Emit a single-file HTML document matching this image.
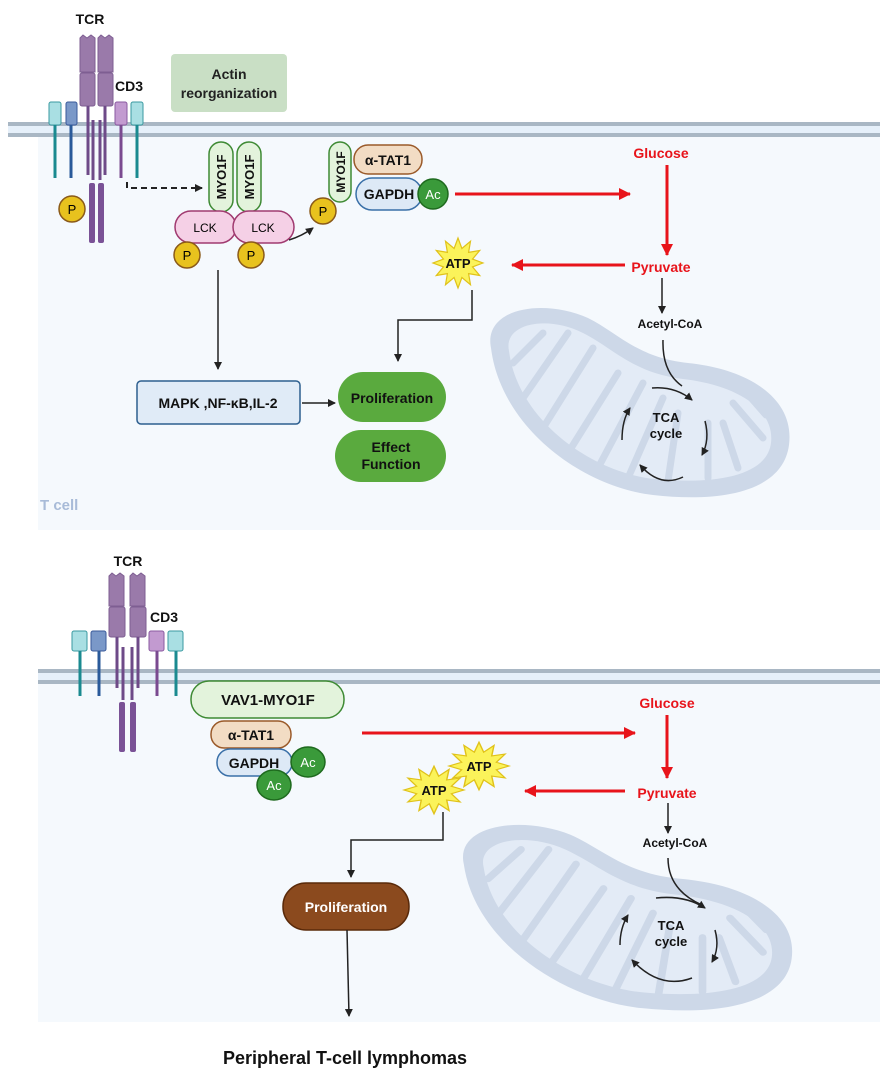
<!DOCTYPE html>
<html><head><meta charset="utf-8"><style>
html,body{margin:0;padding:0;background:#fff}
svg{display:block}
text{font-family:"Liberation Sans",Arial,sans-serif;font-weight:bold}
</style></head><body>
<svg width="880" height="1073" viewBox="0 0 880 1073" xmlns="http://www.w3.org/2000/svg">
<defs>
<marker id="ak" markerWidth="8" markerHeight="8" refX="7" refY="4" orient="auto" markerUnits="userSpaceOnUse"><path d="M0,0 L8,4 L0,8 Z" fill="#222"/></marker>
<marker id="ar" markerWidth="12" markerHeight="12" refX="11" refY="6" orient="auto" markerUnits="userSpaceOnUse"><path d="M0,0 L12,6 L0,12 Z" fill="#e8141b"/></marker>
<polygon id="star" points="25,0 14.5,3.9 21.7,12.5 10.6,10.6 12.5,21.7 3.9,14.5 0,25 -3.9,14.5 -12.5,21.7 -10.6,10.6 -21.7,12.5 -14.5,3.9 -25,0 -14.5,-3.9 -21.7,-12.5 -10.6,-10.6 -12.5,-21.7 -3.9,-14.5 0,-25 3.9,-14.5 12.5,-21.7 10.6,-10.6 21.7,-12.5 14.5,-3.9" fill="#fbf35a" stroke="#e0c21a" stroke-width="1.2"/>
<g id="mito">
<path d="M8,45 C0,5 60,-5 105,15 C135,30 155,55 205,60 C265,66 312,95 306,142 C300,188 240,200 170,192 C100,184 18,125 8,45 Z" fill="#cdd8e8"/>
<path d="M26,48 C20,20 65,12 100,30 C130,45 150,70 200,76 C252,82 292,105 288,140 C284,172 235,182 172,176 C110,170 35,118 26,48 Z" fill="#e3ebf6"/>
<g stroke="#cdd8e8" stroke-width="7" stroke-linecap="round" fill="none">
<path d="M30,60 L60,30"/><path d="M40,95 L85,30"/><path d="M60,125 L110,45"/><path d="M85,150 L135,70"/><path d="M115,165 L160,80"/><path d="M145,175 L180,95"/><path d="M185,178 L195,110"/><path d="M225,175 L225,120"/><path d="M255,165 L240,120"/><path d="M280,135 L250,100"/><path d="M283,112 L262,88"/>
</g>
</g>
</defs>

<!-- TOP PANEL -->
<rect x="38" y="130" width="842" height="400" fill="#f5f9fd"/>
<rect x="8" y="122" width="880" height="15" fill="#e6f0fa"/>
<rect x="8" y="122" width="880" height="4" fill="#a9b7c4"/>
<rect x="8" y="133" width="880" height="4" fill="#a9b7c4"/>

<text x="90" y="24" font-size="14" text-anchor="middle" fill="#111">TCR</text>
<g fill="#9a7aaa" stroke="#7e5e92" stroke-width="1">
<path d="M80,38 l3,-3 l4,3 l4,-3 l4,3 V72 H80 Z"/><rect x="80" y="73" width="15" height="33" rx="2"/>
<path d="M98,38 l3,-3 l4,3 l4,-3 l4,3 V72 H98 Z"/><rect x="98" y="73" width="15" height="33" rx="2"/>
</g>
<g stroke="#6e4a88" stroke-width="3" fill="none">
<path d="M88,106 V175"/><path d="M105,106 V175"/><path d="M93,120 V180"/><path d="M100,120 V180"/>
</g>
<rect x="89" y="183" width="6" height="60" rx="2" fill="#7a5296"/><rect x="98" y="183" width="6" height="60" rx="2" fill="#7a5296"/>
<text x="115" y="91" font-size="14" fill="#111">CD3</text>
<rect x="49" y="102" width="12" height="23" rx="2" fill="#a9dfe3" stroke="#3a9aa0"/>
<rect x="66" y="102" width="11" height="23" rx="2" fill="#7a98c8" stroke="#3a5a9a"/>
<rect x="115" y="102" width="12" height="23" rx="2" fill="#c29ad0" stroke="#8a5aa0"/>
<rect x="131" y="102" width="12" height="23" rx="2" fill="#a9dfe3" stroke="#3a9aa0"/>
<g stroke-width="3"><path d="M55,125 V178" stroke="#1a8a90"/><path d="M71,125 V178" stroke="#2a5a9a"/><path d="M121,125 V178" stroke="#7a4a90"/><path d="M137,125 V178" stroke="#1a8a90"/></g>
<circle cx="72" cy="209" r="13" fill="#e8c21e" stroke="#8a5a1a" stroke-width="1.5"/><text x="72" y="214" font-size="13" text-anchor="middle" style="font-weight:normal">P</text>
<path d="M127,182 V188 H202" stroke="#222" stroke-width="2" stroke-dasharray="6,4" fill="none" marker-end="url(#ak)"/>

<rect x="171" y="54" width="116" height="58" rx="4" fill="#c9dfc5"/>
<text x="229" y="79" font-size="14" text-anchor="middle" fill="#222">Actin</text>
<text x="229" y="98" font-size="14" text-anchor="middle" fill="#222">reorganization</text>

<rect x="209" y="142" width="24" height="70" rx="12" fill="#e3f3dc" stroke="#3e8a34" stroke-width="1.5"/>
<rect x="237" y="142" width="24" height="70" rx="12" fill="#e3f3dc" stroke="#3e8a34" stroke-width="1.5"/>
<text transform="translate(226,177) rotate(-90)" font-size="13" text-anchor="middle" fill="#111">MYO1F</text>
<text transform="translate(254,177) rotate(-90)" font-size="13" text-anchor="middle" fill="#111">MYO1F</text>
<rect x="175" y="211" width="61" height="32" rx="16" fill="#f5d0e6" stroke="#a03a70" stroke-width="1.5"/>
<rect x="233" y="211" width="61" height="32" rx="16" fill="#f5d0e6" stroke="#a03a70" stroke-width="1.5"/>
<text x="205" y="232" font-size="12" text-anchor="middle" style="font-weight:normal">LCK</text>
<text x="263" y="232" font-size="12" text-anchor="middle" style="font-weight:normal">LCK</text>
<circle cx="187" cy="255" r="13" fill="#e8c21e" stroke="#8a5a1a" stroke-width="1.5"/><text x="187" y="260" font-size="13" text-anchor="middle" style="font-weight:normal">P</text>
<circle cx="251" cy="255" r="13" fill="#e8c21e" stroke="#8a5a1a" stroke-width="1.5"/><text x="251" y="260" font-size="13" text-anchor="middle" style="font-weight:normal">P</text>
<path d="M289,240 Q302,236 313,228" stroke="#222" stroke-width="1.5" fill="none" marker-end="url(#ak)"/>
<rect x="329" y="142" width="22" height="60" rx="11" fill="#e3f3dc" stroke="#3e8a34" stroke-width="1.5"/>
<text transform="translate(345,172) rotate(-90)" font-size="12" text-anchor="middle" fill="#111">MYO1F</text>
<circle cx="323" cy="211" r="13" fill="#e8c21e" stroke="#8a5a1a" stroke-width="1.5"/><text x="323" y="216" font-size="13" text-anchor="middle" style="font-weight:normal">P</text>
<rect x="354" y="145" width="68" height="29" rx="14" fill="#f2dcc4" stroke="#9a5a2a" stroke-width="1.5"/>
<text x="388" y="165" font-size="14" text-anchor="middle" fill="#111">α-TAT1</text>
<rect x="356" y="178" width="66" height="32" rx="16" fill="#dde9f6" stroke="#3a70a8" stroke-width="1.5"/>
<text x="389" y="199" font-size="14" text-anchor="middle" fill="#111">GAPDH</text>
<circle cx="433" cy="194" r="15" fill="#3a9a3a" stroke="#1e6a1e" stroke-width="1.5"/><text x="433" y="199" font-size="13" text-anchor="middle" fill="#fff" style="font-weight:normal">Ac</text>

<path d="M455,194 H630" stroke="#e8141b" stroke-width="3" marker-end="url(#ar)"/>
<text x="661" y="158" font-size="14" text-anchor="middle" fill="#e8141b">Glucose</text>
<path d="M667,165 V255" stroke="#e8141b" stroke-width="3" marker-end="url(#ar)"/>
<text x="661" y="272" font-size="14" text-anchor="middle" fill="#e8141b">Pyruvate</text>
<path d="M625,265 H512" stroke="#e8141b" stroke-width="3" marker-end="url(#ar)"/>
<use href="#star" transform="translate(458,263)"/>
<text x="458" y="268" font-size="13" text-anchor="middle" fill="#111">ATP</text>
<use href="#mito" transform="translate(483,303)"/>
<path d="M662,278 V313" stroke="#222" stroke-width="1.5" marker-end="url(#ak)"/>
<text x="670" y="328" font-size="12" text-anchor="middle" fill="#111">Acetyl-CoA</text>
<path d="M663,340 Q662,372 682,386" stroke="#222" stroke-width="1.5" fill="none"/>
<text x="666" y="422" font-size="13" text-anchor="middle" fill="#111">TCA</text>
<text x="666" y="438" font-size="13" text-anchor="middle" fill="#111">cycle</text>
<g stroke="#222" stroke-width="1.5" fill="none" marker-end="url(#ak)">
<path d="M652,388 Q675,386 692,400"/><path d="M705,421 Q710,440 702,455"/><path d="M683,477 Q660,488 640,465"/><path d="M622,440 Q622,420 630,408"/>
</g>
<path d="M472,290 V320 H398 V361" stroke="#222" stroke-width="1.5" fill="none" marker-end="url(#ak)"/>
<path d="M218,270 V369" stroke="#222" stroke-width="1.5" marker-end="url(#ak)"/>
<rect x="137" y="381" width="163" height="43" rx="4" fill="#e0ebf7" stroke="#2d5f8f" stroke-width="1.5"/>
<text x="218" y="408" font-size="14" text-anchor="middle" fill="#111">MAPK ,NF-κB,IL-2</text>
<path d="M302,403 H335" stroke="#222" stroke-width="1.5" marker-end="url(#ak)"/>
<rect x="338" y="372" width="108" height="50" rx="25" fill="#5aaa3e"/>
<text x="392" y="403" font-size="14" text-anchor="middle" fill="#111">Proliferation</text>
<rect x="335" y="430" width="111" height="52" rx="26" fill="#5aaa3e"/>
<text x="391" y="452" font-size="14" text-anchor="middle" fill="#111">Effect</text>
<text x="391" y="469" font-size="14" text-anchor="middle" fill="#111">Function</text>
<text x="40" y="510" font-size="15" fill="#a8bbd8">T cell</text>

<!-- BOTTOM PANEL -->
<rect x="38" y="676" width="842" height="346" fill="#f5f9fd"/>
<rect x="38" y="669" width="850" height="15" fill="#e6f0fa"/>
<rect x="38" y="669" width="850" height="4" fill="#a9b7c4"/>
<rect x="38" y="680" width="850" height="4" fill="#a9b7c4"/>

<text x="128" y="566" font-size="14" text-anchor="middle" fill="#111">TCR</text>
<g fill="#9a7aaa" stroke="#7e5e92" stroke-width="1">
<path d="M109,576 l3,-3 l4,3 l4,-3 l4,3 V606 H109 Z"/><rect x="109" y="607" width="16" height="30" rx="2"/>
<path d="M130,576 l3,-3 l4,3 l4,-3 l4,3 V606 H130 Z"/><rect x="130" y="607" width="16" height="30" rx="2"/>
</g>
<g stroke="#6e4a88" stroke-width="3" fill="none">
<path d="M117,637 V688"/><path d="M138,637 V688"/><path d="M123,647 V700"/><path d="M132,647 V700"/>
</g>
<rect x="119" y="702" width="6" height="50" rx="2" fill="#7a5296"/><rect x="130" y="702" width="6" height="50" rx="2" fill="#7a5296"/>
<text x="150" y="622" font-size="14" fill="#111">CD3</text>
<rect x="72" y="631" width="15" height="20" rx="2" fill="#a9dfe3" stroke="#3a9aa0"/>
<rect x="91" y="631" width="15" height="20" rx="2" fill="#7a98c8" stroke="#3a5a9a"/>
<rect x="149" y="631" width="15" height="20" rx="2" fill="#c29ad0" stroke="#8a5aa0"/>
<rect x="168" y="631" width="15" height="20" rx="2" fill="#a9dfe3" stroke="#3a9aa0"/>
<g stroke-width="3"><path d="M80,651 V696" stroke="#1a8a90"/><path d="M99,651 V696" stroke="#2a5a9a"/><path d="M157,651 V696" stroke="#7a4a90"/><path d="M176,651 V696" stroke="#1a8a90"/></g>

<rect x="191" y="681" width="153" height="37" rx="18" fill="#e3f3dc" stroke="#3e8a34" stroke-width="1.5"/>
<text x="268" y="705" font-size="15" text-anchor="middle" fill="#111">VAV1-MYO1F</text>
<rect x="211" y="721" width="80" height="27" rx="13" fill="#f2dcc4" stroke="#9a5a2a" stroke-width="1.5"/>
<text x="251" y="740" font-size="14" text-anchor="middle" fill="#111">α-TAT1</text>
<rect x="217" y="749" width="75" height="27" rx="13" fill="#dde9f6" stroke="#3a70a8" stroke-width="1.5"/>
<text x="254" y="768" font-size="14" text-anchor="middle" fill="#111">GAPDH</text>
<ellipse cx="308" cy="762" rx="17" ry="15" fill="#3a9a3a" stroke="#1e6a1e" stroke-width="1.5"/><text x="308" y="767" font-size="13" text-anchor="middle" fill="#fff" style="font-weight:normal">Ac</text>
<ellipse cx="274" cy="785" rx="17" ry="15" fill="#3a9a3a" stroke="#1e6a1e" stroke-width="1.5"/><text x="274" y="790" font-size="13" text-anchor="middle" fill="#fff" style="font-weight:normal">Ac</text>

<path d="M362,733 H635" stroke="#e8141b" stroke-width="3" marker-end="url(#ar)"/>
<text x="667" y="708" font-size="14" text-anchor="middle" fill="#e8141b">Glucose</text>
<path d="M667,715 V778" stroke="#e8141b" stroke-width="3" marker-end="url(#ar)"/>
<text x="667" y="798" font-size="14" text-anchor="middle" fill="#e8141b">Pyruvate</text>
<path d="M625,791 H525" stroke="#e8141b" stroke-width="3" marker-end="url(#ar)"/>
<use href="#mito" transform="translate(455,820) scale(1.1,0.98)"/>
<use href="#star" transform="translate(479,766) scale(1.2,0.95)"/>
<text x="479" y="771" font-size="13" text-anchor="middle" fill="#111">ATP</text>
<use href="#star" transform="translate(434,790) scale(1.2,0.95)"/>
<text x="434" y="795" font-size="13" text-anchor="middle" fill="#111">ATP</text>
<path d="M668,803 V833" stroke="#222" stroke-width="1.5" marker-end="url(#ak)"/>
<text x="675" y="847" font-size="12" text-anchor="middle" fill="#111">Acetyl-CoA</text>
<path d="M668,858 Q668,890 702,905" stroke="#222" stroke-width="1.5" fill="none"/>
<text x="671" y="930" font-size="13" text-anchor="middle" fill="#111">TCA</text>
<text x="671" y="946" font-size="13" text-anchor="middle" fill="#111">cycle</text>
<g stroke="#222" stroke-width="1.5" fill="none" marker-end="url(#ak)">
<path d="M656,898 Q685,895 705,908"/><path d="M715,930 Q720,948 712,962"/><path d="M692,978 Q660,990 632,960"/><path d="M620,945 Q620,928 628,915"/>
</g>
<path d="M443,812 V840 H351 V877" stroke="#222" stroke-width="1.5" fill="none" marker-end="url(#ak)"/>
<rect x="283" y="883" width="126" height="47" rx="23" fill="#8b4a1e" stroke="#5a2a0a" stroke-width="1.5"/>
<text x="346" y="912" font-size="14" text-anchor="middle" fill="#fff">Proliferation</text>
<path d="M347,930 L349,1016" stroke="#222" stroke-width="1.5" marker-end="url(#ak)"/>
<text x="345" y="1064" font-size="18" text-anchor="middle" fill="#111">Peripheral T-cell lymphomas</text>
</svg>
</body></html>
